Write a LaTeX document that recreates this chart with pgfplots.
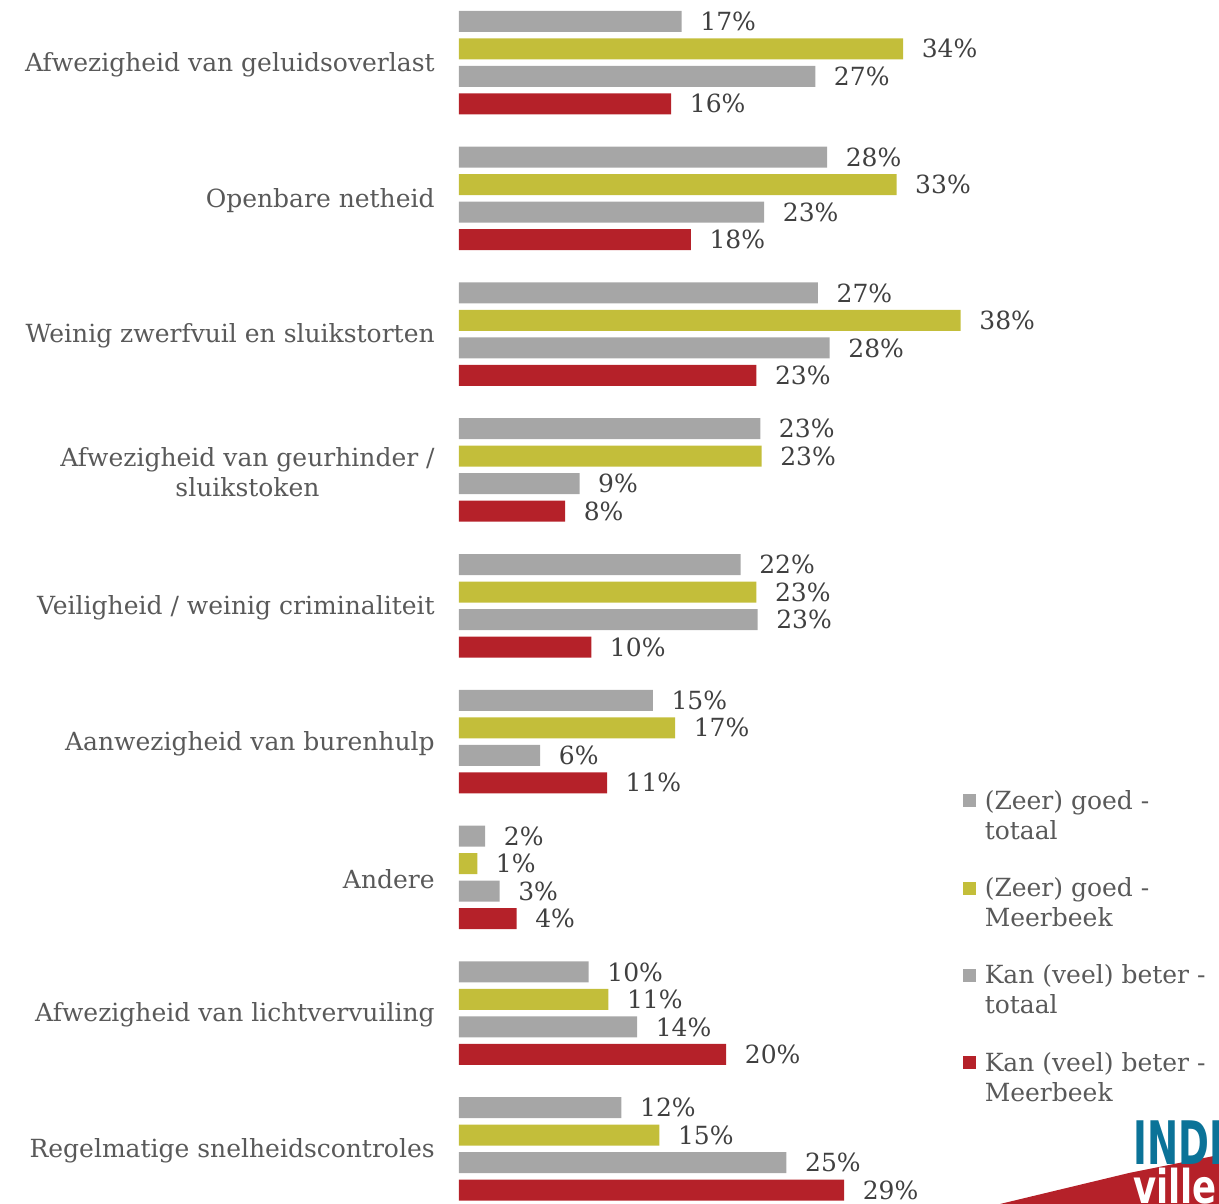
\documentclass[border=0pt]{standalone}
\usepackage{fontspec}
\setmainfont{DejaVu Serif}
\newfontfamily\logofont{DejaVu Sans}[BoldFont={* Bold}]
\usepackage{pgfplots}
\pgfplotsset{compat=1.18}
\usepackage{pgfplotstable}
\definecolor{cgrey}{HTML}{A6A6A6}
\definecolor{colive}{HTML}{C3BE3A}
\definecolor{cred}{HTML}{B52129}
\definecolor{clabel}{HTML}{595959}
\definecolor{cval}{HTML}{404040}
\definecolor{cblue}{HTML}{0B7398}
\pgfplotstableread{
y a b c d
8 17.0 33.9 27.2 16.2
7 28.1 33.4 23.3 17.7
6 27.4 38.3 28.3 22.7
5 23.0 23.1 9.2 8.1
4 21.5 22.7 22.8 10.1
3 14.8 16.5 6.2 11.3
2 2.0 1.4 3.1 4.4
1 9.9 11.4 13.6 20.4
0 12.4 15.3 25.0 29.4
}\data
\begin{document}
\begin{tikzpicture}
\useasboundingbox (-275.4pt,-33pt) rectangle (456pt,689.4pt);
\begin{axis}[
  anchor=origin, at={(0pt,0pt)},
  x=7.86pt, y=81.48pt,
  xmin=0, xmax=40, ymin=-0.405, ymax=8.46,
  xbar, bar width=12.6pt,
  axis line style={draw=none},
  tick style={draw=none}, major tick length=0pt,
  xtick=\empty,
  ytick={0,1,2,3,4,5,6,7,8},
  yticklabels={Regelmatige snelheidscontroles, Afwezigheid van lichtvervuiling, Andere, Aanwezigheid van burenhulp, Veiligheid / weinig criminaliteit, {Afwezigheid van geurhinder /\\ sluikstoken}, Weinig zwerfvuil en sluikstorten, Openbare netheid, Afwezigheid van geluidsoverlast},
  yticklabel style={anchor=east, inner sep=0pt, xshift=-14.4pt, yshift=-1.2pt, align=center, font=\fontsize{15}{18}\selectfont, text=clabel},
  clip=false,
  /pgf/number format/assume math mode=true,
  nodes near coords={\pgfmathprintnumber[fixed,precision=0]{\pgfplotspointmeta}\%},
  every node near coord/.append style={anchor=west, inner sep=0pt, xshift=11pt, font=\fontsize{15}{18}\selectfont, text=cval},
  legend image code/.code={\fill[#1] (0pt,-4.3pt) rectangle (7.8pt,3.5pt); \path (0pt,-14.3pt) (0pt,14.3pt);},
  legend style={at={(0.962,0.3554)}, anchor=north west, draw=none, fill=none, inner sep=0pt, row sep=23.7pt, column sep=5pt, font=\fontsize{15}{18}\selectfont, text=clabel, nodes={inner sep=0pt}},
  legend cell align=left,
]
\addplot[fill=cgrey, draw=none, bar shift=24.75pt] table[x=a,y=y]{\data};
\addlegendentry{\begin{tabular}[t]{@{}l@{}}(Zeer) goed -\\totaal\end{tabular}}
\addplot[fill=colive, draw=none, bar shift=8.25pt] table[x=b,y=y]{\data};
\addlegendentry{\begin{tabular}[t]{@{}l@{}}(Zeer) goed -\\Meerbeek\end{tabular}}
\addplot[fill=cgrey, draw=none, bar shift=-8.25pt] table[x=c,y=y]{\data};
\addlegendentry{\begin{tabular}[t]{@{}l@{}}Kan (veel) beter -\\totaal\end{tabular}}
\addplot[fill=cred, draw=none, bar shift=-24.75pt] table[x=d,y=y]{\data};
\addlegendentry{\begin{tabular}[t]{@{}l@{}}Kan (veel) beter -\\Meerbeek\end{tabular}}
\end{axis}
% logo (partly cut off at the edge)
\fill[cred] (324.6pt,-33pt) -- (402pt,-14.4pt) -- (456pt,-3.6pt) -- (456pt,-33pt) -- cycle;
\node[anchor=south west, inner sep=0pt, xscale=0.62, text=cblue] at (404.4pt,-9.6pt) {\logofont\bfseries\fontsize{36}{36}\selectfont INDI};
\node[anchor=base west, inner sep=0pt, xscale=0.76, text=white] at (404.4pt,-33pt) {\logofont\bfseries\fontsize{28}{28}\selectfont ville};
\end{tikzpicture}
\end{document}
